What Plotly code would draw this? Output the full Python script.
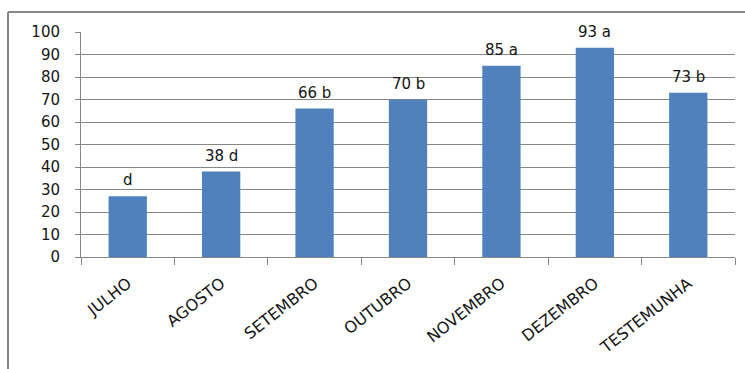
import plotly.graph_objects as go

# Monthly treatments and their mean values with significance letters
months = ["JULHO", "AGOSTO", "SETEMBRO", "OUTUBRO", "NOVEMBRO", "DEZEMBRO", "TESTEMUNHA"]
values = [27, 38, 66, 70, 85, 93, 73]
labels = ["d", "38 d", "66 b", "70 b", "85 a", "93 a", "73 b"]
y_ticks = [0, 10, 20, 30, 40, 50, 60, 70, 80, 90, 100]

GRAY = "#878787"
FONT = "DejaVu Sans"
TEXT = "#151515"

fig = go.Figure(
    go.Bar(
        x=months,
        y=values,
        marker=dict(color="#4F81BD", line=dict(width=0)),
    )
)

# Value / letter labels above each bar
for m, v, t in zip(months, values, labels):
    fig.add_annotation(
        x=m, y=v, text=t, showarrow=False,
        yanchor="bottom", yshift=5,
        font=dict(family=FONT, size=15, color=TEXT),
    )

fig.update_layout(
    width=745,
    height=369,
    margin=dict(l=81, r=10, t=32, b=112),
    paper_bgcolor="white",
    plot_bgcolor="white",
    bargap=0.59,
    showlegend=False,
    font=dict(family=FONT, color=TEXT),
)

fig.update_yaxes(
    range=[0, 100],
    tickvals=y_ticks,
    showgrid=True,
    gridcolor=GRAY,
    gridwidth=1,
    showline=True,
    linecolor=GRAY,
    linewidth=1,
    ticks="outside",
    ticklen=5,
    tickcolor=GRAY,
    ticklabelstandoff=12,
    tickfont=dict(family=FONT, size=15, color=TEXT),
    zeroline=False,
)

fig.update_xaxes(
    showline=True,
    linecolor=GRAY,
    linewidth=1,
    ticks="outside",
    tickson="boundaries",
    ticklen=7,
    tickcolor=GRAY,
    tickangle=-38,
    ticklabelstandoff=10,
    tickfont=dict(family=FONT, size=16, color=TEXT),
)

# Outer chart frame (top and left edges)
x0 = (8 - 81) / 654
y_top = (257 - 12) / 225
y_bot = (257 - 369) / 225
fig.add_shape(type="line", xref="paper", yref="paper", x0=x0, x1=x0, y0=y_bot, y1=y_top,
              line=dict(color=GRAY, width=2))
fig.add_shape(type="line", xref="paper", yref="paper", x0=x0, x1=(745 - 81) / 654 + 0.01,
              y0=y_top, y1=y_top, line=dict(color=GRAY, width=2))

fig.write_html("out.html")
